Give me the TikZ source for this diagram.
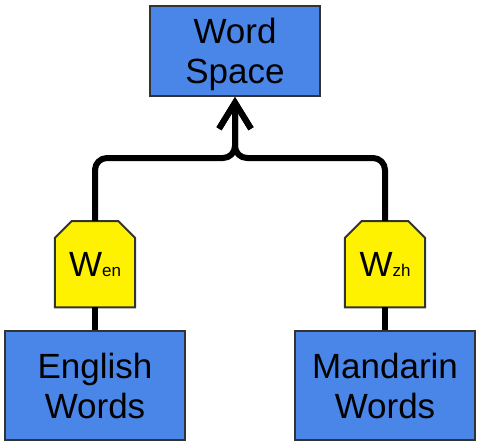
\documentclass[tikz,border=0pt]{standalone}
\usepackage{fontspec}
\setmainfont{Liberation Sans}
\usetikzlibrary{arrows.meta,backgrounds}
\definecolor{boxblue}{HTML}{4A86E8}
\definecolor{edgegray}{HTML}{333333}
\begin{document}
\begin{tikzpicture}[x=1pt,y=-1pt,
  bluebox/.style={draw=edgegray, line width=2pt, fill=boxblue, align=center,
    inner sep=0pt, font=\fontsize{35}{40}\selectfont},
  weightbox/.style={inner sep=0pt, minimum width=80pt, minimum height=86pt,
    font=\fontsize{35}{40}\selectfont},
  chamfer/.style={fill=yellow, draw=edgegray, line width=2pt},
  conn/.style={line width=6pt, draw=black},
  arrowconn/.style={conn, rounded corners=12pt, line join=round,
    -{Straight Barb[length=26pt,width=32pt]}}]
\useasboundingbox (0,0) rectangle (478,445);
\node[bluebox, minimum width=170pt, minimum height=90pt] (ws) at (235,51) {\rule{0pt}{31.5pt}Word\\Space};
\node[bluebox, minimum width=180pt, minimum height=109pt] (en) at (95,385.5) {English\\Words};
\node[bluebox, minimum width=180pt, minimum height=109pt] (zh) at (385,385.5) {Mandarin\\Words};
\node[weightbox] (wen) at (95,264.2) {W{\fontsize{17}{20}\selectfont en}};
\node[weightbox] (wzh) at (385,264.2) {W{\fontsize{17}{20}\selectfont zh}};
\begin{scope}[on background layer]
  \foreach \n in {wen,wzh}
    \filldraw[chamfer] (\n.south west) -- ([yshift=-17pt]\n.north west)
      -- ([xshift=17pt]\n.north west) -- ([xshift=-17pt]\n.north east)
      -- ([yshift=-17pt]\n.north east) -- (\n.south east) -- cycle;
\end{scope}
\coordinate (join) at (235,158);
\begin{scope}[on background layer]
\draw[arrowconn] (wen.north) |- (join) -- (ws.south);
\draw[arrowconn] (wzh.north) |- (join) -- (ws.south);
\draw[conn] (wen.south) -- (en.north);
\draw[conn] (wzh.south) -- (zh.north);
\end{scope}
\end{tikzpicture}
\end{document}
